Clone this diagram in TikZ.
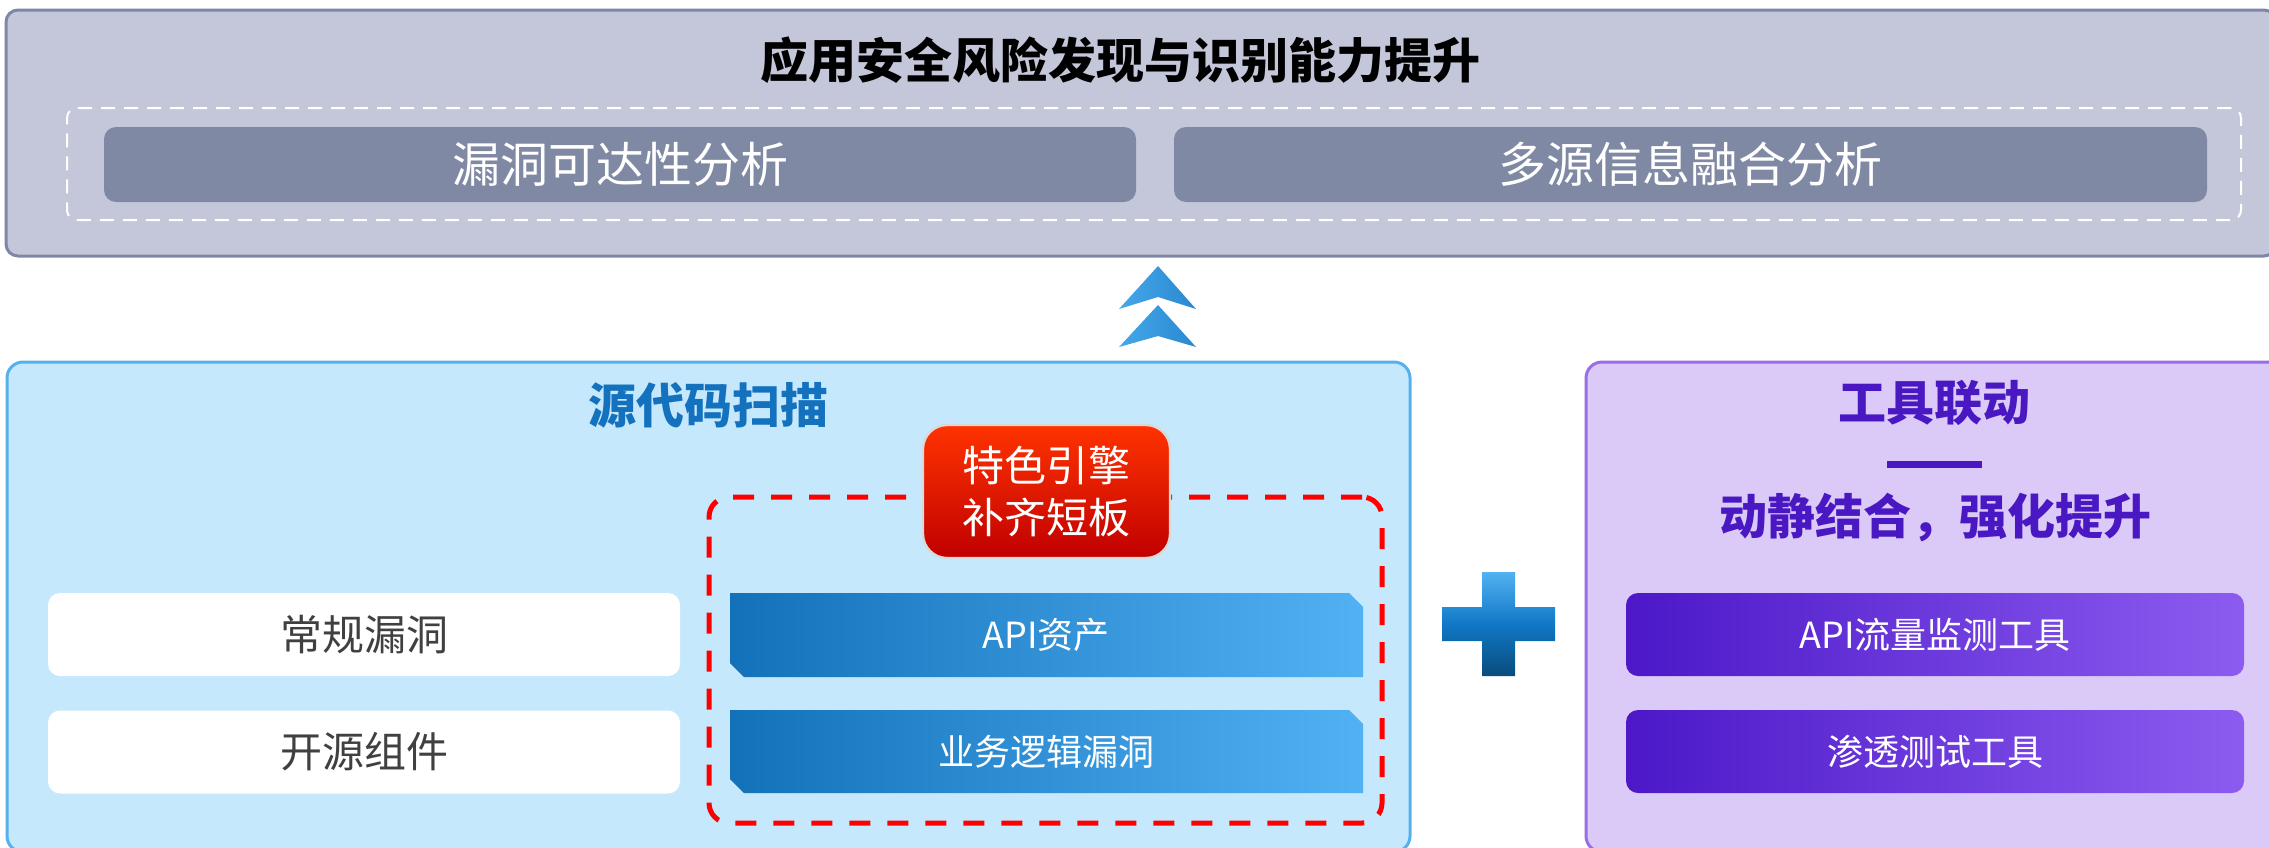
\documentclass[tikz,border=0pt]{standalone}
\usepackage{fontspec}
\setmainfont{Noto Sans CJK SC}
\definecolor{topfill}{HTML}{C4C7D9}
\definecolor{topdraw}{HTML}{7F87A6}
\definecolor{grayblock}{HTML}{7F89A3}
\definecolor{srcfill}{HTML}{C5E8FD}
\definecolor{srcdraw}{HTML}{55B0EE}
\definecolor{srctitle}{HTML}{1371BE}
\definecolor{txtgray}{HTML}{404040}
\definecolor{bluedark}{HTML}{1271B9}
\definecolor{bluelight}{HTML}{52B1F3}
\definecolor{badgetop}{HTML}{FF3300}
\definecolor{badgebot}{HTML}{C00000}
\definecolor{purfill}{HTML}{DBCAF7}
\definecolor{purdraw}{HTML}{9A6DE9}
\definecolor{purtitle}{HTML}{4A18C2}
\definecolor{purdark}{HTML}{4C18C8}
\definecolor{purlight}{HTML}{8C5CF0}
\definecolor{arrowl}{HTML}{45A8EA}
\definecolor{arrowr}{HTML}{2A88D0}
\definecolor{plustop}{HTML}{52B2F2}
\definecolor{plusmid}{HTML}{1078C6}
\definecolor{plusbot}{HTML}{0A4C7C}
\tikzset{
  panel/.style={rectangle, rounded corners=6pt, inner sep=0pt, line width=1.5pt},
  blk/.style={rectangle, rounded corners=6pt, inner sep=0pt},
  bigtitle/.style={font=\fontsize{24pt}{28pt}\selectfont\bfseries},
  blocktext/.style={text=white, font=\fontsize{24pt}{28pt}\selectfont},
  itemtext/.style={font=\fontsize{21pt}{25pt}\selectfont},
  bartext/.style={text=white, font=\fontsize{18pt}{22pt}\selectfont},
}
\begin{document}
\begin{tikzpicture}[x=0.5pt,y=-0.5pt]
\useasboundingbox (0,0) rectangle (2269,847);
% top panel
\node[panel, fill=topfill, draw=topdraw, minimum width=1135pt, minimum height=123pt] (top) at (1141,133) {};
\node[bigtitle, text=black] (toptitle) at (1120,60) {应用安全风险发现与识别能力提升};
\node[blk, draw=white, dashed, dash pattern=on 7pt off 4.5pt, line width=1pt, rounded corners=5pt, minimum width=1087pt, minimum height=56pt] (dash) at (1154,164) {};
\node[blk, fill=grayblock, minimum width=516pt, minimum height=37.5pt] (g1) at (620,164.5) {};
\node[blocktext] (g1t) at (620,164.5) {漏洞可达性分析};
\node[blk, fill=grayblock, minimum width=516.5pt, minimum height=37.5pt] (g2) at (1690.5,164.5) {};
\node[blocktext] (g2t) at (1690.5,164.5) {多源信息融合分析};
% arrows
\shade[left color=arrowl, right color=arrowr] (1158,266) -- (1196,309) -- (1158,297) -- (1119,309) -- cycle;
\shade[left color=arrowl, right color=arrowr] (1158,305) -- (1196,347) -- (1158,336) -- (1119,347) -- cycle;
% source panel
\node[panel, fill=srcfill, draw=srcdraw, rounded corners=8pt, minimum width=701.5pt, minimum height=245pt] (src) at (708.5,607) {};
\node[bigtitle, text=srctitle] (srct) at (708,405) {源代码扫描};
\node[blk, fill=white, minimum width=316pt, minimum height=41.5pt] (w1) at (364,634.5) {};
\node[itemtext, text=txtgray] (w1t) at (364,634.5) {常规漏洞};
\node[blk, fill=white, minimum width=316pt, minimum height=41.5pt] (w2) at (364,752) {};
\node[itemtext, text=txtgray] (w2t) at (364,752) {开源组件};
\node[rectangle, rounded corners=10pt, draw=red, dashed, dash pattern=on 10.5pt off 8.5pt, line width=2.5pt, minimum width=336.5pt, minimum height=163pt] (red) at (1045.5,660) {};
\shade[left color=bluedark, right color=bluelight] (730,593) -- (1349,593) -- (1363,607) -- (1363,677) -- (744,677) -- (730,663) -- cycle;
\node[bartext] (b1) at (1046,635) {API资产};
\shade[left color=bluedark, right color=bluelight] (730,710) -- (1349,710) -- (1363,724) -- (1363,793) -- (744,793) -- (730,779) -- cycle;
\node[bartext] (b2) at (1046,752) {业务逻辑漏洞};
\node[rectangle, rounded corners=12pt, top color=badgetop, bottom color=badgebot, draw=black!15, line width=1.2pt, minimum width=123.5pt, minimum height=66.5pt] (badge) at (1046.5,491.5) {};
\node[text=white, align=center, font=\fontsize{21pt}{26pt}\selectfont] (badget) at (1046.5,491.5) {特色引擎\\补齐短板};
% plus
\shade[top color=plustop, bottom color=plusbot, middle color=plusmid] (1482,572) -- (1515,572) -- (1515,607) -- (1555,607) -- (1555,641) -- (1515,641) -- (1515,676) -- (1482,676) -- (1482,641) -- (1442,641) -- (1442,607) -- (1482,607) -- cycle;
% purple panel
\node[panel, fill=purfill, draw=purdraw, rounded corners=8pt, minimum width=349.5pt, minimum height=245pt] (pur) at (1935.5,607) {};
\node[bigtitle, text=purtitle] (purt) at (1934,403) {工具联动};
\coordinate (dl) at (1887,464);
\coordinate (dr) at (1982,464);
\draw[purtitle, line width=3.5pt] (dl) -- (dr);
\node[bigtitle, text=purtitle] (purs) at (1935,518) {动静结合，强化提升};
\node[blk, left color=purdark, right color=purlight, minimum width=309pt, minimum height=41.5pt] (p1) at (1935,634.5) {};
\node[bartext] (p1t) at (1935,634.5) {API流量监测工具};
\node[blk, left color=purdark, right color=purlight, minimum width=309pt, minimum height=41.5pt] (p2) at (1935,751.5) {};
\node[bartext] (p2t) at (1935,751.5) {渗透测试工具};
\end{tikzpicture}
\end{document}
